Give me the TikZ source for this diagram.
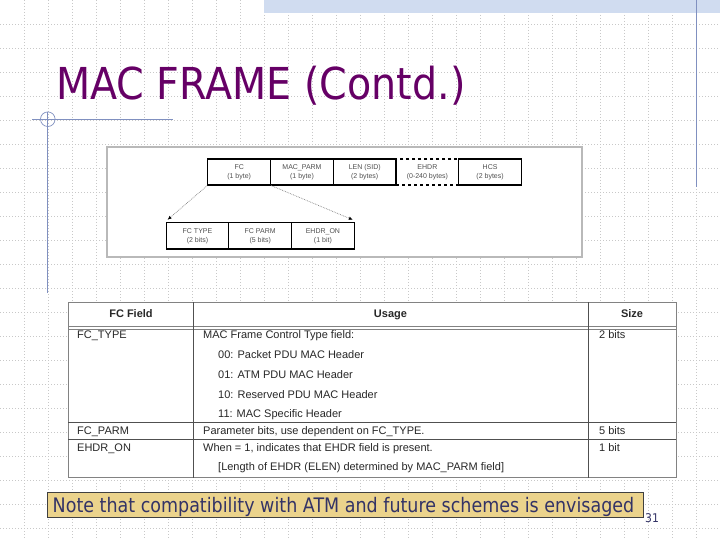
\documentclass[tikz,border=0pt]{standalone}
\usepackage{fontspec}
\setmainfont{Liberation Sans}
\newfontfamily\tahoma[FakeStretch=0.9]{DejaVu Sans}
\newfontfamily\notefont[FakeStretch=0.875]{DejaVu Sans}
\usetikzlibrary{arrows.meta}
\definecolor{titlepurple}{RGB}{102,0,102}
\definecolor{slate}{RGB}{128,144,192}
\definecolor{gridc}{RGB}{200,200,200}
\definecolor{bandc}{RGB}{208,220,240}
\definecolor{notefill}{RGB}{235,211,140}
\definecolor{notetext}{RGB}{51,51,102}
\definecolor{tabline}{RGB}{130,130,130}
\definecolor{tabdark}{RGB}{80,80,80}
\definecolor{tabtext}{RGB}{40,40,40}
\definecolor{boxtext}{RGB}{80,80,80}
\tikzset{
  gridline/.style={gridc, line width=0.6pt, dash pattern=on 1pt off 2pt},
  deco/.style={slate, line width=1pt},
  fieldbox/.style={draw=black, line width=1.2pt, minimum width=62.7pt, minimum height=26pt, inner sep=0pt, align=center, text=boxtext, font=\fontsize{7}{9}\selectfont},
  fieldboxdashed/.style={fieldbox, dashed},
  ptr/.style={densely dotted, gray, line width=0.7pt, -{Latex[length=4pt,width=3.5pt,black]}},
  cell/.style={anchor=base west, inner sep=0pt, text=tabtext, font=\fontsize{11}{11}\selectfont},
  headcell/.style={anchor=base, inner sep=0pt, text=tabtext, font=\bfseries\fontsize{11}{11}\selectfont},
}
\begin{document}
\begin{tikzpicture}[x=1pt,y=-1pt]
\useasboundingbox (0,0) rectangle (720,540);
\fill[white] (0,0) rectangle (720,540);
% background grid
\foreach \g in {24,48,...,696} {
  \draw[gridline] (\g,0) -- (\g,540);
}
\foreach \g in {24,48,...,528} {
  \draw[gridline] (0,\g) -- (720,\g);
}
% top band
\fill[bandc] (264,0) rectangle (720,13);
% decorative lines
\draw[deco] (696,0) -- (696,187);
\draw[deco] (47.8,112) -- (47.8,293);
\draw[deco] (32,119.2) -- (173,119.2);
\draw[slate, line width=0.7pt] (47.8,119.2) circle (7.3);
% title
\node[anchor=base west, inner sep=0pt, text=titlepurple, font=\tahoma\fontsize{44}{44}\selectfont] (title) at (56,100) {MAC FRAME (Contd.)};
% frame diagram
\node[draw=gray!55, line width=1.5pt, fill=white, minimum width=475pt, minimum height=110pt, inner sep=0pt] (diag) at (344.5,202) {};
\node[fieldbox] (fc) at (239.2,172) {FC\\(1 byte)};
\node[fieldbox] (macparm) at (302,172) {MAC\_PARM\\(1 byte)};
\node[fieldbox] (len) at (364.7,172) {LEN (SID)\\(2 bytes)};
\node[fieldboxdashed] (ehdr) at (427.4,172) {EHDR\\(0-240 bytes)};
\node[fieldbox] (hcs) at (490.1,172) {HCS\\(2 bytes)};
\node[fieldbox] (fctype) at (197.5,235.9) {FC TYPE\\(2 bits)};
\node[fieldbox] (fcparm) at (260.2,235.9) {FC PARM\\(5 bits)};
\node[fieldbox] (ehdron) at (322.9,235.9) {EHDR\_ON\\(1 bit)};
\coordinate (tipl) at ([xshift=2pt,yshift=2.5pt]fctype.north west);
\coordinate (tipr) at ([xshift=-2pt,yshift=2.5pt]ehdron.north east);
\draw[ptr] (fc.south west) -- (tipl);
\draw[ptr] (fc.south east) -- (tipr);
% table
\fill[white] (68,302) rectangle (676,477.7);
\draw[tabline, line width=0.9pt] (68,302) rectangle (676,477.7);
\draw[tabline, line width=0.8pt] (68,326) -- (676,326);
\draw[tabline, line width=0.8pt] (68,329.5) -- (676,329.5);
\draw[tabdark, line width=0.8pt] (193,302) -- (193,477.7);
\draw[tabdark, line width=0.8pt] (588,302) -- (588,477.7);
\draw[tabdark, line width=0.8pt] (68,422) -- (676,422);
\draw[tabdark, line width=0.8pt] (68,439) -- (676,439);
\node[headcell] (h1) at (131,317.5) {FC Field};
\node[headcell] (h2) at (390.5,317.5) {Usage};
\node[headcell] (h3) at (632,317.5) {Size};
\node[cell] (r1a) at (77,338) {FC\_TYPE};
\node[cell] (r1b) at (203,338) {MAC Frame Control Type field:};
\node[cell] (r1c) at (599,338) {2 bits};
\node[cell] (r1d) at (218,358) {00: Packet PDU MAC Header};
\node[cell] (r1e) at (218,378) {01: ATM PDU MAC Header};
\node[cell] (r1f) at (218,398) {10: Reserved PDU MAC Header};
\node[cell] (r1g) at (218,417.5) {11: MAC Specific Header};
\node[cell] (r2a) at (77,434.5) {FC\_PARM};
\node[cell] (r2b) at (203,434.5) {Parameter bits, use dependent on FC\_TYPE.};
\node[cell] (r2c) at (599,434.5) {5 bits};
\node[cell] (r3a) at (77,451.5) {EHDR\_ON};
\node[cell] (r3b) at (203,451.5) {When = 1, indicates that EHDR field is present.};
\node[cell] (r3c) at (599,451.5) {1 bit};
\node[cell] (r3d) at (218,470.5) {[Length of EHDR (ELEN) determined by MAC\_PARM field]};
% note
\node[draw=black!75, line width=1pt, fill=notefill, minimum width=596pt, minimum height=25pt, inner sep=0pt] (notebox) at (345,504.5) {};
\node[anchor=base west, inner sep=0pt, text=notetext, font=\notefont\fontsize{20}{20}\selectfont] (note) at (52.5,512) {Note that compatibility with ATM and future schemes is envisaged};
\node[anchor=base west, inner sep=0pt, text=notetext, font=\tahoma\fontsize{12}{12}\selectfont] (pagenum) at (645,522) {31};
\end{tikzpicture}
\end{document}
